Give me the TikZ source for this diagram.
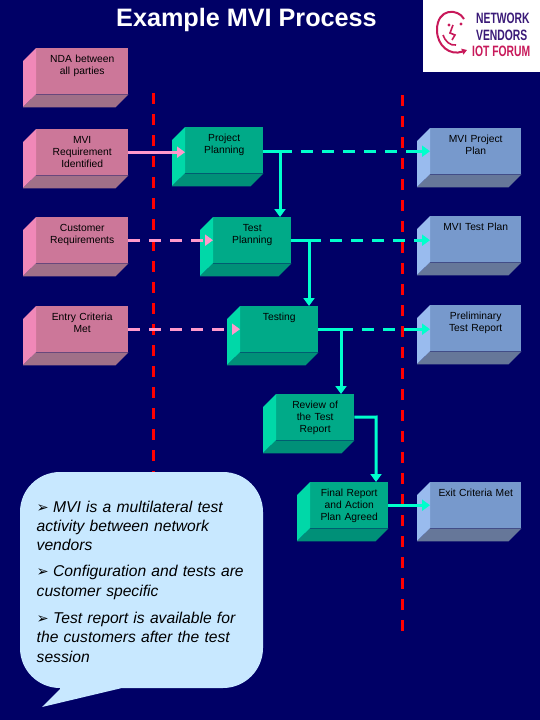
\documentclass[tikz,border=0pt]{standalone}
\usepackage{fontspec}
\setmainfont{Liberation Sans}
\newfontfamily\dingfont{DejaVu Sans}
\usetikzlibrary{arrows.meta}
\definecolor{navybg}{HTML}{000066}
\definecolor{pinkfront}{HTML}{CC7799}
\definecolor{pinkside}{HTML}{F088B8}
\definecolor{pinkbase}{HTML}{A07088}
\definecolor{greenfront}{HTML}{00AA88}
\definecolor{greenside}{HTML}{00D8A8}
\definecolor{greenbase}{HTML}{009078}
\definecolor{bluefront}{HTML}{7799CC}
\definecolor{blueside}{HTML}{99BBEE}
\definecolor{bluebase}{HTML}{667799}
\definecolor{pinkline}{HTML}{FF99CC}
\definecolor{cyanline}{HTML}{00FFCC}
\definecolor{bubblefill}{HTML}{C8E8FF}
\definecolor{logopurple}{HTML}{3A1A78}
\definecolor{logored}{HTML}{C8195A}
\tikzset{
  block/.style={inner sep=0pt, anchor=north west, align=center, text=black,
    text height=14pt, text depth=32pt,
    font=\fontsize{10.3}{12}\selectfont},
  pinkblock/.style={block, fill=pinkfront, text width=92pt},
  greenblock/.style={block, fill=greenfront, text width=78pt},
  blueblock/.style={block, fill=bluefront, text width=91pt},
  redrule/.style={red, line width=3pt, dash pattern=on 11pt off 10pt},
  pinkflow/.style={pinkline, line width=3pt, -{Triangle[length=8pt,width=11pt]}},
  cyanflow/.style={cyanline, line width=3pt, -{Triangle[length=8pt,width=11pt]}},
  pinkdash/.style={pinkflow, dash pattern=on 12pt off 9pt},
  logoline/.style={inner sep=0pt, anchor=west, font=\bfseries\fontsize{15}{15}\selectfont,
    xscale=.69, transform shape}
}
\newcommand{\notemark}{\makebox[16.5pt][l]{\dingfont\bfseries\upshape\fontsize{14.5}{19}\selectfont ➢}}
% block: colour, name, top left corner of the front face, text
\newcommand{\block}[4]{
  \node[#1block] (#2) at (#3) {#4};
  \fill[#1side] (#2.north west) -- ++(-13,13) -- ++(0,46) -- (#2.south west) -- cycle;
  \fill[#1base] (#2.south west) -- ++(-13,13) -- ([shift={(-13,13)}]#2.south east) -- (#2.south east) -- cycle;
}
\begin{document}
\begin{tikzpicture}[x=1pt,y=-1pt]
  \fill[navybg] (0,0) rectangle (540,720);
  \useasboundingbox (0,0) rectangle (540,720);

  % dashed boundaries
  \coordinate (leftrule) at (153,93);
  \coordinate (leftend) at (153,480);
  \coordinate (rightrule) at (402,95);
  \coordinate (rightend) at (402,632);
  \draw[redrule] (leftrule) -- (leftend);
  \draw[redrule] (rightrule) -- (rightend);

  \node[text=white, inner sep=0pt, font=\bfseries\fontsize{25.2}{26}\selectfont] (title) at (246.5,20) {Example MVI Process};

  % logo
  \fill[white] (423,0) rectangle (540,72);
  \draw[logored, line width=2pt, -{Triangle[length=5pt,width=6pt]}] (464,19) .. controls (458,8) and (437,8) .. (437,30) .. controls (437,46) and (450,56) .. (467,50);
  \fill[logored] (449,25) circle (1.6);
  \fill[logored] (461,24) circle (1.6);
  \draw[logored, line width=1.6pt] (453,25) -- (450,33) -- (455,35) -- (452,40);
  \draw[logored, line width=1.6pt] (443,35) .. controls (445,41) and (450,46) .. (456,45);
  \node[logoline, text=logopurple] (lognet) at (476,18) {NETWORK};
  \node[logoline, text=logopurple] (logven) at (476,35) {VENDORS};
  \node[logoline, text=logored] (logiot) at (472,51) {IOT FORUM};

  % left column
  \block{pink}{nda}{36,48}{NDA between\\all parties}
  \block{pink}{mvireq}{36,129}{MVI\\Requirement\\Identified}
  \block{pink}{custreq}{36,217}{Customer\\Requirements}
  \block{pink}{entry}{36,306}{Entry Criteria\\Met}

  % process steps
  \block{green}{projplan}{185,127}{Project\\Planning}
  \block{green}{testplan}{213,217}{Test\\Planning}
  \block{green}{testing}{240,306}{Testing}
  \block{green}{review}{276,394}{Review of\\the Test\\Report}
  \block{green}{final}{310,482}{Final Report\\and Action\\Plan Agreed}

  % outputs
  \block{blue}{projout}{430,128}{MVI Project\\Plan}
  \block{blue}{testout}{430,216}{MVI Test Plan}
  \block{blue}{prelim}{430,305}{Preliminary\\Test Report}
  \block{blue}{exit}{430,482}{Exit Criteria Met}

  \draw[pinkflow] (mvireq.east) -- (mvireq.east -| projplan.west);
  \draw[pinkdash] (custreq.east) -- (custreq.east -| testplan.west);
  \draw[pinkdash] (entry.east) -- (entry.east -| testing.west);

  \draw[cyanflow, dash pattern=on 29pt off 9pt on 12pt off 9pt on 12pt off 9pt on 12pt off 9pt on 12pt off 9pt on 12pt off 9pt on 60pt]
    ([yshift=-1pt]projplan.east) -- ([yshift=-1pt]projplan.east -| projout.west);
  \draw[cyanflow, dash pattern=on 30pt off 9pt on 12pt off 9pt on 12pt off 9pt on 12pt off 9pt on 12pt off 9pt on 60pt]
    (testplan.east) -- (testplan.east -| testout.west);
  \draw[cyanflow, dash pattern=on 35pt off 9pt on 12pt off 9pt on 12pt off 9pt on 60pt]
    (testing.east) -- (testing.east -| prelim.west);
  \draw[cyanflow] (final.east) -- (final.east -| exit.west);

  \coordinate (turnone) at (280,151);
  \coordinate (turntwo) at (309,240);
  \coordinate (turnthree) at (341,329);
  \draw[cyanflow] (turnone) -- (turnone |- testplan.north);
  \draw[cyanflow] (turntwo) -- (turntwo |- testing.north);
  \draw[cyanflow] (turnthree) -- (turnthree |- review.north);
  \coordinate (turnfour) at (376,417);
  \draw[cyanflow] (review.east) -- (turnfour) -- (turnfour |- final.north);

  % bubble
  \fill[bubblefill] (20,512) arc[start angle=180, end angle=270, radius=40]
    -- (223,472) arc[start angle=270, end angle=360, radius=40]
    -- (263,648) arc[start angle=0, end angle=90, radius=40]
    -- (122,688) -- (42,707) -- (60,689) -- (60,688)
    arc[start angle=90, end angle=180, radius=40] -- cycle;
  \node[inner sep=0pt, anchor=base west, text width=235pt, align=left, text=black,
    font=\itshape\fontsize{15.65}{19.3}\selectfont] (notes) at (36.5,512)
    {\notemark MVI is a multilateral test\\
     activity between network\\
     vendors\\[7pt]
     \notemark Configuration and tests are\\
     customer specific\\[8pt]
     \notemark Test report is available for\\
     the customers after the test\\
     session};
\end{tikzpicture}
\end{document}
